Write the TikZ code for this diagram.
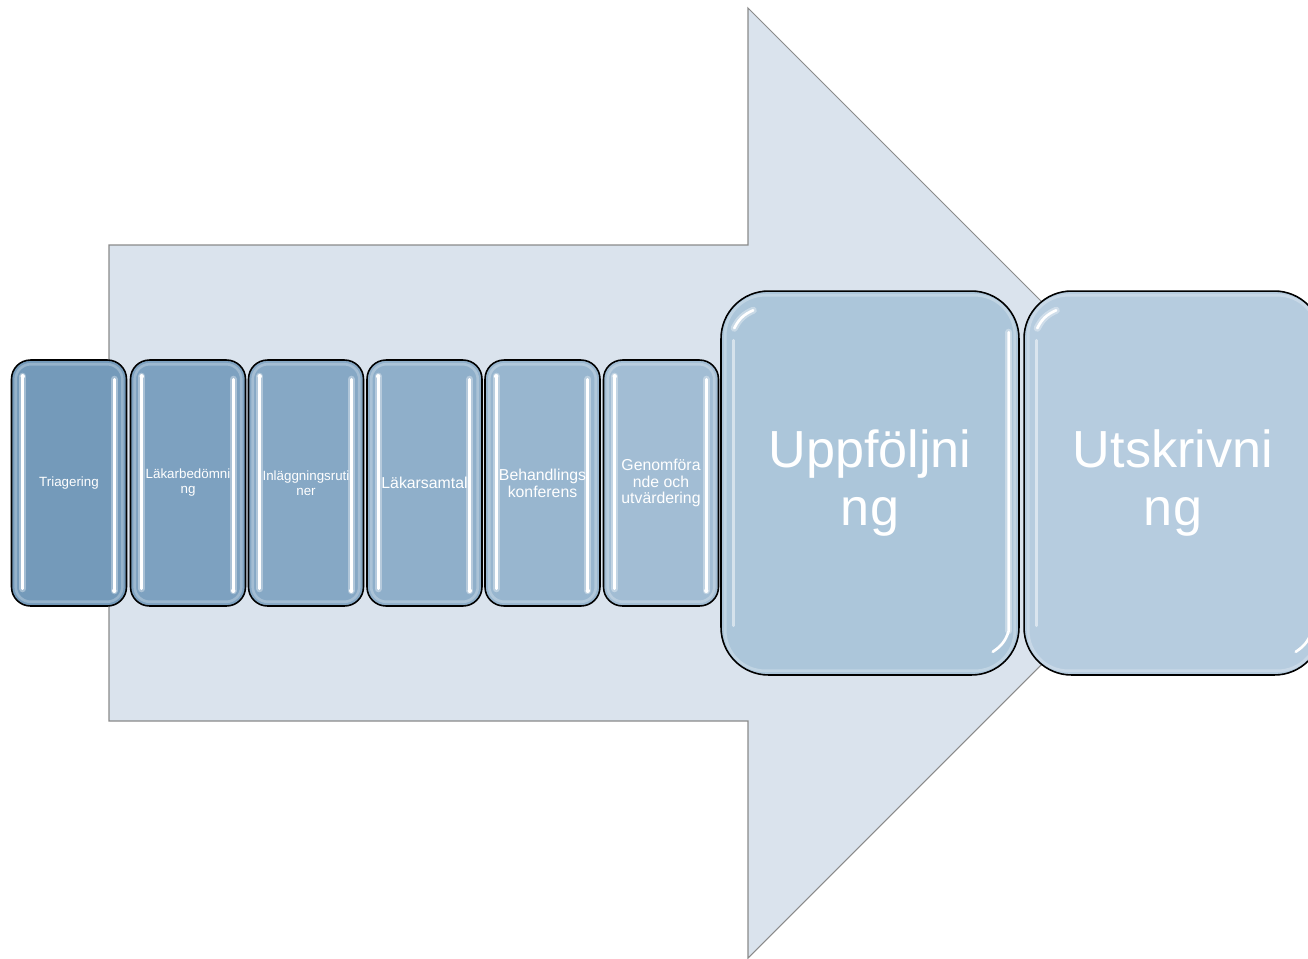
\documentclass[tikz,border=0pt]{standalone}
\usepackage{fontspec}
\setmainfont{Liberation Sans}
\usepackage{tikz}
\usetikzlibrary{calc}
\definecolor{arrowfill}{RGB}{218,227,237}
\definecolor{arrowline}{RGB}{138,138,138}
\definecolor{boxA}{RGB}{116,154,186}
\definecolor{boxB}{RGB}{125,161,192}
\definecolor{boxC}{RGB}{134,168,197}
\definecolor{boxD}{RGB}{143,175,202}
\definecolor{boxE}{RGB}{152,182,207}
\definecolor{boxF}{RGB}{162,189,212}
\definecolor{boxG}{RGB}{172,198,218}
\definecolor{boxH}{RGB}{182,204,223}
\tikzset{
  bigarrow/.style = {fill=arrowfill,draw=arrowline,line width=0.6pt},
  smallbox/.style = {draw=black,line width=0.9pt,rounded corners=0.38cm,
                     minimum width=2.3cm,minimum height=4.92cm,inner sep=0pt,
                     text=white,align=center},
  bigbox/.style   = {draw=black,line width=0.9pt,rounded corners=0.95cm,
                     minimum width=5.96cm,minimum height=7.68cm,inner sep=0pt,
                     text=white,align=center,
                     font=\fontsize{29.7}{32.9}\selectfont},
  smalltxt/.style = {font=\fontsize{7.6}{8.5}\selectfont},
  midtxt/.style   = {font=\fontsize{9}{9.6}\selectfont},
  rim/.style      = {white,opacity=0.25,line width=1.5pt},
  glow/.style     = {white,opacity=0.35,line width=4pt,line cap=round},
  glint/.style    = {white,line width=1.5pt,line cap=round}
}
\newcommand{\shine}[1]{%
  \draw[rim,rounded corners=0.3cm] ($(#1.north west)+(5,5)$) rectangle ($(#1.south east)+(-5,-5)$);
  \draw[glow]  ($(#1.north west)+(12,17)$) -- ($(#1.south west)+(12,-18)$);
  \draw[glint] ($(#1.north west)+(12,17)$) -- ($(#1.south west)+(12,-18)$);
  \fill[white] ($(#1.north west)+(12,17)$) circle (2.2);
  \draw[glow]  ($(#1.north east)+(-13,20)$) -- ($(#1.south east)+(-13,-16)$);
  \draw[glint] ($(#1.north east)+(-13,20)$) -- ($(#1.south east)+(-13,-16)$);
  \fill[white] ($(#1.south east)+(-13,-16)$) circle (2.2);
}
\newcommand{\bigshine}[1]{%
  \draw[rim,rounded corners=0.8cm] ($(#1.north west)+(5,5)$) rectangle ($(#1.south east)+(-5,-5)$);
  \draw[glint,opacity=0.5] ($(#1.north west)+(13,50)$) -- ($(#1.south west)+(13,-50)$);
  \draw[glow]  ($(#1.north west)+(14,38)$) to[bend left=20] ($(#1.north west)+(33,20)$);
  \draw[glint] ($(#1.north west)+(14,38)$) to[bend left=20] ($(#1.north west)+(33,20)$);
  \draw[glow]  ($(#1.north east)+(-11,42)$) -- ($(#1.south east)+(-11,-45)$);
  \draw[glint] ($(#1.north east)+(-11,42)$) -- ($(#1.south east)+(-11,-45)$)
    to[bend left=20] ($(#1.south east)+(-27,-24)$);
}

\begin{document}
\begin{tikzpicture}[x=0.02cm,y=-0.02cm]
  \useasboundingbox (0,0) rectangle (1308,958);
  \clip (0,0) rectangle (1308,958);
  \draw[bigarrow] (109,245) -- (748,245) -- (748,8) -- (1223,483)
    -- (748,958) -- (748,721) -- (109,721) -- cycle;

  \node[smallbox,fill=boxA,smalltxt] (tri)  at (69,483)    {Triagering};
  \node[smallbox,fill=boxB,smalltxt] (lakb) at (188,483)   {Läkarbedömni\\ng};
  \node[smallbox,fill=boxC,smalltxt] (inl)  at (306,483)   {Inläggningsruti\\ner};
  \node[smallbox,fill=boxD,midtxt]   (laks) at (424.5,483) {Läkarsamtal};
  \node[smallbox,fill=boxE,midtxt]   (beh)  at (542.5,483) {Behandlings\\konferens};
  \node[smallbox,fill=boxF,midtxt]   (gen)  at (661,483)   {Genomföra\\nde och\\utvärdering};
  \node[bigbox,fill=boxG] (upp) at (870,483)  {Uppföljni\\ng};
  \node[bigbox,fill=boxH] (uts) at (1173,483) {Utskrivni\\ng};

  \shine{tri}
  \shine{lakb}
  \shine{inl}
  \shine{laks}
  \shine{beh}
  \shine{gen}
  \bigshine{upp}
  \bigshine{uts}
\end{tikzpicture}
\end{document}
